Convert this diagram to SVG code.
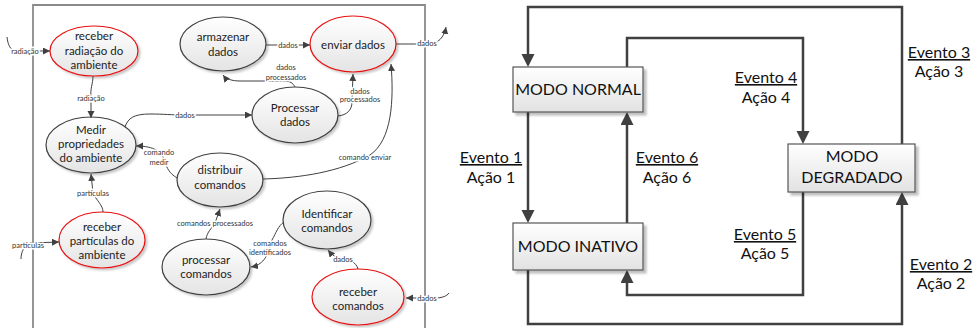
<svg xmlns="http://www.w3.org/2000/svg" width="975" height="328" viewBox="0 0 975 328">
<defs>
<linearGradient id="eg" x1="0" y1="0" x2="0" y2="1"><stop offset="0" stop-color="#ffffff"/><stop offset="1" stop-color="#e4e4e4"/></linearGradient>
<linearGradient id="bg" x1="0" y1="0" x2="0" y2="1"><stop offset="0" stop-color="#ffffff"/><stop offset="1" stop-color="#e2e2e2"/></linearGradient>
<filter id="sh" x="-20%" y="-20%" width="140%" height="150%"><feDropShadow dx="2" dy="2" stdDeviation="1.2" flood-color="#000" flood-opacity="0.22"/></filter>
<filter id="bsh" x="-10%" y="-10%" width="120%" height="130%"><feDropShadow dx="3" dy="3" stdDeviation="0.8" flood-color="#000" flood-opacity="0.25"/></filter>
<marker id="a" markerUnits="userSpaceOnUse" markerWidth="8" markerHeight="8" refX="7" refY="3.5" orient="auto"><path d="M0,0 L7,3.5 L0,7 z" fill="#404040"/></marker>
<marker id="A" markerUnits="userSpaceOnUse" markerWidth="14" markerHeight="14" refX="3" refY="6.5" orient="auto"><path d="M0,0 L13,6.5 L0,13 z" fill="#404040"/></marker>
</defs>
<style>
.e{fill:url(#eg);stroke:#404040;stroke-width:1.2;filter:url(#sh)}
.r{stroke:#e81010}
.t{font-family:Lato,"Liberation Sans",sans-serif;font-size:11.5px;fill:#222;text-anchor:middle}
.c path{fill:none;stroke:#404040;stroke-width:1}
.l{font-family:Lato,"Liberation Sans",sans-serif;font-size:7.5px;fill:#333;text-anchor:middle;stroke:#fff;stroke-width:3;paint-order:stroke;stroke-linejoin:round}
.b{fill:url(#bg);stroke:#555;stroke-width:1.2;filter:url(#bsh)}
.bt{font-family:Lato,"Liberation Sans",sans-serif;font-size:16px;fill:#111;text-anchor:middle}
.k path{fill:none;stroke:#404040;stroke-width:2.5}
.ev{font-family:Lato,"Liberation Sans",sans-serif;font-size:16px;fill:#111;text-anchor:middle}
</style>
<rect width="975" height="328" fill="#fff"/>
<path d="M33,330 V5 H425 V330" fill="none" stroke="#8a8a8a" stroke-width="1.8"/>
<g id="receber-radiacao"><ellipse class="e r" cx="94" cy="51" rx="44" ry="25"/><text class="t" x="94" y="40">receber</text><text class="t" x="94" y="55">radiação do</text><text class="t" x="94" y="69">ambiente</text></g>
<g id="armazenar"><ellipse class="e" cx="223" cy="44" rx="43" ry="27"/><text class="t" x="223" y="41">armazenar</text><text class="t" x="223" y="56">dados</text></g>
<g id="enviar"><ellipse class="e r" cx="353" cy="44" rx="43" ry="28"/><text class="t" x="353" y="49">enviar dados</text></g>
<g id="processar-dados"><ellipse class="e" cx="295" cy="115" rx="43" ry="28"/><text class="t" x="295" y="112">Processar</text><text class="t" x="295" y="126">dados</text></g>
<g id="medir"><ellipse class="e" cx="91" cy="145" rx="45" ry="28"/><text class="t" x="91" y="134">Medir</text><text class="t" x="91" y="148">propriedades</text><text class="t" x="91" y="162">do ambiente</text></g>
<g id="distribuir"><ellipse class="e" cx="220" cy="180" rx="43" ry="27"/><text class="t" x="220" y="174">distribuir</text><text class="t" x="220" y="189">comandos</text></g>
<g id="receber-particulas"><ellipse class="e r" cx="102" cy="240" rx="43" ry="28"/><text class="t" x="102" y="231">receber</text><text class="t" x="102" y="245">partículas do</text><text class="t" x="102" y="259">ambiente</text></g>
<g id="processar-comandos"><ellipse class="e" cx="206" cy="267" rx="44" ry="28"/><text class="t" x="206" y="264">processar</text><text class="t" x="206" y="278">comandos</text></g>
<g id="identificar"><ellipse class="e" cx="327" cy="220" rx="44" ry="29"/><text class="t" x="327" y="218">Identificar</text><text class="t" x="327" y="232">comandos</text></g>
<g id="receber-comandos"><ellipse class="e r" cx="358" cy="297" rx="46" ry="28"/><text class="t" x="358" y="296">receber</text><text class="t" x="358" y="310">comandos</text></g>
<g id="connectors-left" class="c">
<path d="M7,37 C8,45 10,50 16,51 L50,51" marker-end="url(#a)"/>
<path d="M93,76 C93,84 90,88 91,98 L91,118" marker-end="url(#a)"/>
<path d="M125,127 C128,118 134,114 150,114 C165,114 170,115 185,115 L252,115" marker-end="url(#a)"/>
<path d="M177,178 C169,173 167,168 165,162 C162,152 155,146 136,146" marker-end="url(#a)"/>
<path d="M103,212 C103,205 96,200 93,193 L91,174" marker-end="url(#a)"/>
<path d="M21,259 C21,252 24,246 30,243 L59,242" marker-end="url(#a)"/>
<path d="M206,239 C207,232 212,228 215,223 L220,209" marker-end="url(#a)"/>
<path d="M284,222 C278,226 276,233 272,240 C268,258 262,265 251,267" marker-end="url(#a)"/>
<path d="M358,269 C356,262 350,260 343,259 C336,258 332,255 328,250" marker-end="url(#a)"/>
<path d="M449,293 C447,296 442,298 435,298 L406,298" marker-end="url(#a)"/>
<path d="M396,44 L430,44 C438,43 444,38 446,27" marker-end="url(#a)"/>
<path d="M266,45 L310,45" marker-end="url(#a)"/>
<path d="M295,87 C293,83 290,81 284,81 L240,81 C232,81 226,79 223,75" marker-end="url(#a)"/>
<path d="M338,116 C347,115 352,110 352,102 L353,74" marker-end="url(#a)"/>
<path d="M263,179 C300,178 340,172 370,155 C392,140 394,100 391,64" marker-end="url(#a)"/>
<text class="l" x="25" y="54">radiação</text>
<text class="l" x="91" y="101">radiação</text>
<text class="l" x="185" y="118">dados</text>
<text class="l" x="159" y="155">comando</text>
<text class="l" x="159" y="165">medir</text>
<text class="l" x="93" y="196">partículas</text>
<text class="l" x="28" y="248">partículas</text>
<text class="l" x="215" y="226">comandos processados</text>
<text class="l" x="270" y="246">comandos</text>
<text class="l" x="270" y="255">identificados</text>
<text class="l" x="343" y="262">dados</text>
<text class="l" x="427" y="301">dados</text>
<text class="l" x="427" y="46">dados</text>
<text class="l" x="288" y="48">dados</text>
<text class="l" x="286" y="70">dados</text>
<text class="l" x="286" y="80">processados</text>
<text class="l" x="360" y="94">dados</text>
<text class="l" x="360" y="102">processados</text>
<text class="l" x="365" y="160">comando enviar</text>
</g>
<g id="connectors-right" class="k">
<path d="M902,144 V7 H528 V57" marker-end="url(#A)"/>
<path d="M627,67 V38 H803 V134" marker-end="url(#A)"/>
<path d="M528,112 V213" marker-end="url(#A)"/>
<path d="M627,223 V122" marker-end="url(#A)"/>
<path d="M803,192 V295 H627 V280" marker-end="url(#A)"/>
<path d="M528,270 V324 H902 V202" marker-end="url(#A)"/>
</g>
<g id="modo-normal"><rect class="b" x="513" y="67" width="130" height="45"/><text class="bt" x="578" y="95">MODO NORMAL</text></g>
<g id="modo-inativo"><rect class="b" x="513" y="223" width="130" height="47"/><text class="bt" x="578" y="252">MODO INATIVO</text></g>
<g id="modo-degradado"><rect class="b" x="788" y="144" width="127" height="48"/><text class="bt" x="852" y="162">MODO</text><text class="bt" x="852" y="183">DEGRADADO</text></g>
<g id="labels-right">
<text class="ev" x="491" y="163" text-decoration="underline">Evento 1</text><text class="ev" x="491" y="183">Ação 1</text>
<text class="ev" x="667" y="163" text-decoration="underline">Evento 6</text><text class="ev" x="667" y="183">Ação 6</text>
<text class="ev" x="766" y="83" text-decoration="underline">Evento 4</text><text class="ev" x="766" y="103">Ação 4</text>
<text class="ev" x="939" y="58" text-decoration="underline">Evento 3</text><text class="ev" x="939" y="77">Ação 3</text>
<text class="ev" x="765" y="240" text-decoration="underline">Evento 5</text><text class="ev" x="765" y="259">Ação 5</text>
<text class="ev" x="941" y="270" text-decoration="underline">Evento 2</text><text class="ev" x="941" y="289">Ação 2</text>
</g>
</svg>
